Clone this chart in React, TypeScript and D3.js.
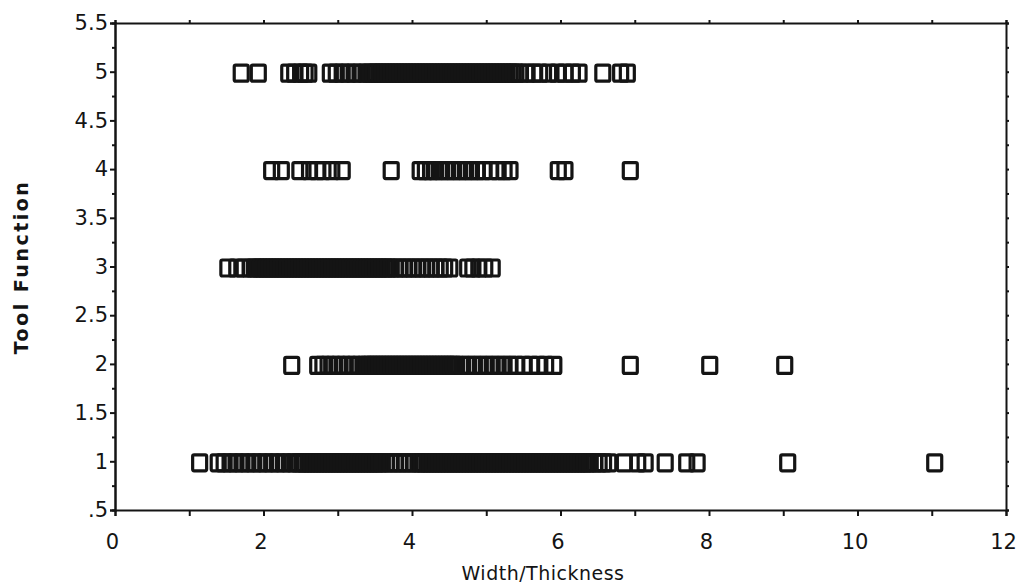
import React, { useRef, useEffect } from "react";
import * as d3 from "d3";

// tick labels
const xTickValues = [0, 2, 4, 6, 8, 10, 12];
const yTickValues = [0.5, 1, 1.5, 2, 2.5, 3, 3.5, 4, 4.5, 5, 5.5];
const yTickLabels = [".5", "1", "1.5", "2", "2.5", "3", "3.5", "4", "4.5", "5", "5.5"];

// width/thickness values per tool function
const toolFunctions = [1, 2, 3, 4, 5];

const fn1 = [
  1.14,
  1.39, 1.47, 1.55, 1.63, 1.71, 1.79, 1.87, 1.95, 2.03, 2.11, 2.19, 2.27, 2.35, 2.42, 2.48,
  2.52, 2.56, 2.6, 2.64, 2.68, 2.72, 2.76, 2.8, 2.84, 2.88, 2.92, 2.96, 3.0, 3.04, 3.08,
  3.12, 3.16, 3.2, 3.24, 3.28, 3.32, 3.36, 3.4, 3.44, 3.48, 3.52, 3.56, 3.6,
  3.66, 3.72, 3.78, 3.84, 3.9, 3.96, 4.02, 4.08,
  4.12, 4.16, 4.2, 4.24, 4.28, 4.32, 4.36, 4.4, 4.44, 4.48, 4.52, 4.56, 4.6, 4.64, 4.68,
  4.72, 4.76, 4.8, 4.84, 4.88, 4.92, 4.96, 5.0, 5.04, 5.08, 5.12, 5.16, 5.2, 5.24, 5.28,
  5.32, 5.36, 5.4, 5.44, 5.48, 5.52, 5.56, 5.6, 5.64, 5.68, 5.72, 5.76, 5.8, 5.84, 5.88,
  5.92, 5.96, 6.0, 6.04, 6.08, 6.12, 6.16, 6.2, 6.24, 6.28, 6.32, 6.36, 6.4, 6.46, 6.52,
  6.58, 6.65,
  6.86, 7.04, 7.14, 7.41, 7.7, 7.84, 9.06, 11.04,
];

const fn2 = [
  2.38,
  2.73, 2.8, 2.87, 2.94, 3.01, 3.08, 3.15, 3.22, 3.29, 3.36, 3.4, 3.44, 3.48, 3.52, 3.56,
  3.6, 3.64, 3.68, 3.72, 3.76, 3.8, 3.84, 3.88, 3.92, 3.96, 4.0, 4.04, 4.08, 4.12, 4.16,
  4.2, 4.24, 4.28, 4.32, 4.36, 4.4, 4.44, 4.48, 4.52, 4.56, 4.6, 4.68, 4.76, 4.84, 4.92,
  5.0, 5.08, 5.16, 5.24, 5.32, 5.4, 5.5, 5.6, 5.7, 5.8, 5.91,
  6.94, 8.01, 9.02,
];

const fn3 = [
  1.52, 1.64, 1.74, 1.82, 1.88, 1.92, 1.96, 2.0, 2.04, 2.08, 2.12, 2.16, 2.2, 2.24, 2.28,
  2.32, 2.36, 2.4, 2.44, 2.48, 2.52, 2.56, 2.6, 2.64, 2.68, 2.72, 2.76, 2.8, 2.84, 2.88,
  2.92, 2.96, 3.0, 3.04, 3.08, 3.12, 3.16, 3.2, 3.24, 3.28, 3.32, 3.36, 3.4, 3.44, 3.48,
  3.52, 3.56, 3.6, 3.64, 3.68, 3.72, 3.78, 3.84, 3.9, 3.96, 4.02, 4.08, 4.14, 4.2, 4.26,
  4.32, 4.38, 4.44, 4.51,
  4.75, 4.82, 4.9, 4.98, 5.08,
];

const fn4 = [
  2.11, 2.24,
  2.49, 2.62, 2.72, 2.8, 2.92, 3.06,
  3.72,
  4.11, 4.18, 4.25, 4.32, 4.4, 4.48, 4.56, 4.64, 4.72, 4.8, 4.88, 4.96, 5.06, 5.16, 5.24, 5.32,
  5.97, 6.06,
  6.94,
];

const fn5 = [
  1.7, 1.93,
  2.34, 2.42, 2.5, 2.56, 2.61,
  2.9, 2.98, 3.06, 3.14, 3.22, 3.3, 3.38, 3.44, 3.48, 3.52, 3.56, 3.6, 3.64, 3.68, 3.72,
  3.76, 3.8, 3.84, 3.88, 3.92, 3.96, 4.0, 4.04, 4.08, 4.12, 4.16, 4.2, 4.24, 4.28, 4.32,
  4.36, 4.4, 4.44, 4.48, 4.52, 4.56, 4.6, 4.64, 4.68, 4.72, 4.76, 4.8, 4.84, 4.88, 4.92,
  4.96, 5.0, 5.04, 5.08, 5.12, 5.16, 5.2, 5.24, 5.28, 5.32, 5.36, 5.4, 5.46, 5.55, 5.64,
  5.72, 5.84, 5.96, 6.06, 6.16, 6.25,
  6.57, 6.81, 6.9,
];

const allSeries = [fn1, fn2, fn3, fn4, fn5];

const App = () => {
  const ref = useRef(null);

  useEffect(() => {
    const width = 1017;
    const height = 583;
    const font = "'DejaVu Sans', Verdana, sans-serif";
    const ink = "#141414";

    const svg = d3
      .select(ref.current)
      .append("svg")
      .attr("width", width)
      .attr("height", height)
      .style("display", "block")
      .style("background", "#fff");

    const x = d3.scaleLinear().domain([0, 12]).range([115, 1006]);
    const y = d3.scaleLinear().domain([0.5, 5.5]).range([510, 23]);

    const minorY = d3.range(0.75, 5.5, 0.5);
    const allY = d3.range(0.5, 5.51, 0.25);
    const unitX = d3.range(0, 13, 1);

    const styleAxis = (g) => {
      g.select(".domain").attr("stroke", ink).attr("stroke-width", 2);
      g.selectAll(".tick line").attr("stroke", ink).attr("stroke-width", 2);
      g.selectAll("text")
        .attr("fill", ink)
        .style("font-family", font)
        .style("font-size", "21px");
    };

    // left axis
    svg
      .append("g")
      .attr("transform", `translate(${x(0)},0)`)
      .call(
        d3
          .axisLeft(y)
          .tickValues(yTickValues)
          .tickSize(5)
          .tickPadding(2)
          .tickFormat((d, i) => yTickLabels[i])
      )
      .call(styleAxis);

    svg
      .append("g")
      .attr("transform", `translate(${x(0)},0)`)
      .call(d3.axisLeft(y).tickValues(minorY).tickSize(3).tickFormat(() => ""))
      .call(styleAxis);

    // right axis
    svg
      .append("g")
      .attr("transform", `translate(${x(12)},0)`)
      .call(d3.axisRight(y).tickValues(allY).tickSize(3).tickFormat(() => ""))
      .call(styleAxis);

    // top axis
    svg
      .append("g")
      .attr("transform", `translate(0,${y(5.5)})`)
      .call(d3.axisTop(x).tickValues(unitX).tickSize(3).tickFormat(() => ""))
      .call(styleAxis);

    // bottom axis
    svg
      .append("g")
      .attr("transform", `translate(0,${y(0.5)})`)
      .call(
        d3
          .axisBottom(x)
          .tickValues(unitX)
          .tickSize(6)
          .tickPadding(18)
          .tickFormat((d) => (xTickValues.includes(d) ? String(d) : ""))
      )
      .call(styleAxis)
      .selectAll("text")
      .attr("dx", "-3");

    // squares
    const w = 14;
    const h = 16;
    allSeries.forEach((vals, i) => {
      svg
        .append("g")
        .selectAll("rect")
        .data(vals)
        .enter()
        .append("rect")
        .attr("x", (d) => x(d) - w / 2)
        .attr("y", y(toolFunctions[i]) - h / 2 + 1.5)
        .attr("width", w)
        .attr("height", h)
        .attr("rx", 1.5)
        .attr("fill", "none")
        .attr("stroke", ink)
        .attr("stroke-width", 3.2);
    });

    // titles
    svg
      .append("text")
      .attr("x", 543)
      .attr("y", 580)
      .attr("text-anchor", "middle")
      .attr("fill", ink)
      .style("font-family", font)
      .style("font-size", "19px")
      .style("letter-spacing", "0.5px")
      .text("Width/Thickness");

    svg
      .append("text")
      .attr("transform", `translate(28,267) rotate(-90)`)
      .attr("text-anchor", "middle")
      .attr("fill", ink)
      .style("font-family", font)
      .style("font-size", "19px")
      .style("font-weight", "bold")
      .style("letter-spacing", "2.5px")
      .text("Tool Function");

    return () => {
      svg.remove();
    };
  }, []);

  return <div ref={ref} style={{ position: "absolute", left: 0, top: 0 }}></div>;
};

export default App;
